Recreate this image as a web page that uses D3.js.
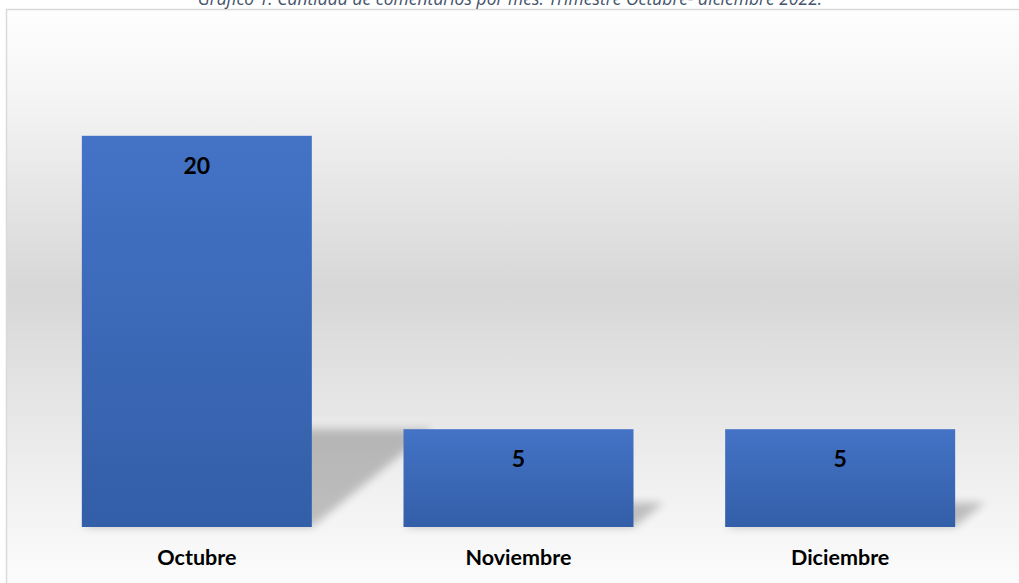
<!DOCTYPE html>
<html>
<head>
<meta charset="utf-8">
<script src="https://cdn.jsdelivr.net/npm/d3@7"></script>
<style>
  body { margin: 0; background: #ffffff; overflow: hidden; }
  svg { display: block; }
</style>
</head>
<body>
<svg id="svg"></svg>
<script>
var width = 1019, height = 583;

// data
var months = ["Octubre", "Noviembre", "Diciembre"];
var comments = [20, 5, 5];
var title = "Gráfico 1. Cantidad de comentarios por mes. Trimestre Octubre- diciembre 2022.";

var svg = d3.select("#svg")
	.attr("width", width)
	.attr("height", height);

var defs = svg.append("defs");

var bg = defs.append("linearGradient")
	.attr("id", "bg")
	.attr("x1", 0).attr("y1", 0).attr("x2", 0).attr("y2", 1);
bg.append("stop").attr("offset", "0%").attr("stop-color", "#fefefe");
bg.append("stop").attr("offset", "12%").attr("stop-color", "#f7f7f7");
bg.append("stop").attr("offset", "48%").attr("stop-color", "#d7d7d7");
bg.append("stop").attr("offset", "80%").attr("stop-color", "#efefef");
bg.append("stop").attr("offset", "100%").attr("stop-color", "#fdfdfd");

var barFill = defs.append("linearGradient")
	.attr("id", "barFill")
	.attr("x1", 0).attr("y1", 0).attr("x2", 0).attr("y2", 1);
barFill.append("stop").attr("offset", "0%").attr("stop-color", "#4473c6");
barFill.append("stop").attr("offset", "100%").attr("stop-color", "#335ea8");

defs.append("filter")
	.attr("id", "blur")
	.attr("x", "-20%").attr("y", "-50%").attr("width", "140%").attr("height", "200%")
	.append("feGaussianBlur")
	.attr("stdDeviation", 4);

// chart frame
svg.append("rect")
	.attr("x", 6.5)
	.attr("y", 9.5)
	.attr("width", width)
	.attr("height", height)
	.attr("fill", "url(#bg)")
	.attr("stroke", "#d9d9d9")
	.attr("stroke-width", 1.5);

// title sits mostly above the top edge, as in the source image
svg.append("text")
	.attr("x", 510)
	.attr("y", 5)
	.attr("text-anchor", "middle")
	.style("font-family", "'Open Sans', sans-serif")
	.style("font-style", "italic")
	.style("font-size", "17.5px")
	.style("fill", "#44546a")
	.text(title);

var x = d3.scaleBand()
	.domain(months)
	.range([36, 1001])
	.paddingInner(0.285)
	.paddingOuter(0.1425);

var y = d3.scaleLinear()
	.domain([0, 25])
	.range([527, 38]);

// perspective shadows
var skew = 1.23, squash = 0.25;
svg.selectAll(".shadow")
	.data(comments)
	.enter()
	.append("path")
	.attr("class", "shadow")
	.attr("d", function(d, i) {
		var x0 = x(months[i]), x1 = x0 + x.bandwidth();
		var h = (y(0) - y(d)) * squash;
		var b = y(0);
		return "M" + x0 + "," + b + "L" + x1 + "," + b +
			"L" + (x1 + h * skew) + "," + (b - h) +
			"L" + (x0 + h * skew) + "," + (b - h) + "Z";
	})
	.attr("fill", "#000")
	.attr("opacity", 0.22)
	.attr("filter", "url(#blur)");

svg.selectAll(".bar")
	.data(comments)
	.enter()
	.append("rect")
	.attr("class", "bar")
	.attr("x", function(d, i) { return x(months[i]); })
	.attr("y", function(d) { return y(d); })
	.attr("width", x.bandwidth())
	.attr("height", function(d) { return y(0) - y(d); })
	.attr("fill", "url(#barFill)");

svg.selectAll(".label")
	.data(comments)
	.enter()
	.append("text")
	.attr("class", "label")
	.attr("x", function(d, i) { return x(months[i]) + x.bandwidth() / 2; })
	.attr("y", function(d) { return y(d) + 38; })
	.attr("text-anchor", "middle")
	.style("font-family", "Lato, sans-serif")
	.style("font-weight", "bold")
	.style("font-size", "23px")
	.style("fill", "#000")
	.text(function(d) { return d; });

var xAxis = d3.axisBottom(x).tickSize(0);
var gx = svg.append("g")
	.attr("transform", "translate(0," + y(0) + ")")
	.call(xAxis);
gx.select(".domain").remove();
gx.selectAll("text")
	.attr("y", 38)
	.attr("dy", 0)
	.style("font-family", "Lato, sans-serif")
	.style("font-weight", "bold")
	.style("font-size", "21.5px")
	.style("fill", "#000");
</script>
</body>
</html>
